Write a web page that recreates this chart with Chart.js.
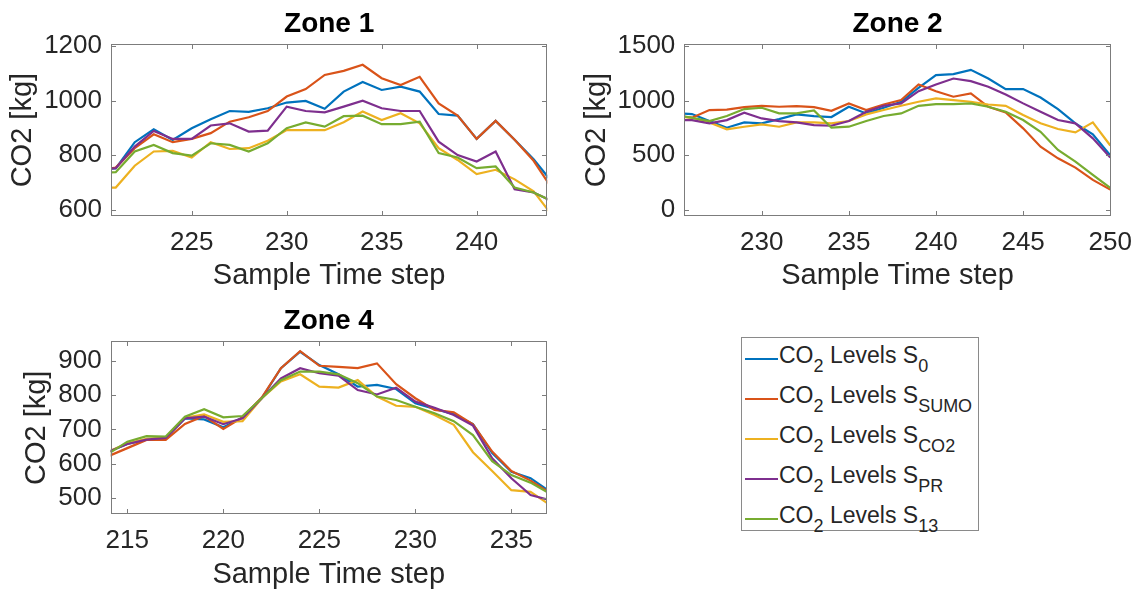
<!DOCTYPE html>
<html><head><meta charset="utf-8">
<script src="https://cdn.jsdelivr.net/npm/chart.js@4.4.1/dist/chart.umd.min.js"></script>
<style>
html,body{margin:0;padding:0;background:#fff;width:1143px;height:596px;overflow:hidden;}
#wrap{position:relative;width:1143px;height:596px;}
canvas{position:absolute;}
.lrow{position:absolute;white-space:nowrap;font-family:'Liberation Sans',Arial,Helvetica,sans-serif;font-size:23px;line-height:23px;color:#262626;}
.lrow sub{font-size:18px;vertical-align:baseline;position:relative;top:9px;line-height:0;}
.lline{position:absolute;height:2px;}
#lbox{position:absolute;border:1px solid #8a8a8a;box-sizing:border-box;background:#fff;}
</style></head><body>
<div id="wrap">
<canvas id="c1" width="570" height="300" style="left:0;top:0"></canvas>
<canvas id="c2" width="573" height="300" style="left:570px;top:0"></canvas>
<canvas id="c4" width="570" height="300" style="left:0;top:296px"></canvas>
<div id="lbox" style="left:741px;top:337px;width:238px;height:194px"></div>
</div>
<script>
// ---------- data ----------
const seriesSubs = ['0', 'SUMO', 'CO2', 'PR', '13'];
const seriesColors = ['#0072BD', '#D95319', '#EDB120', '#7E2F8E', '#77AC30'];

const zone1Steps = [220,221,222,223,224,225,226,227,228,229,230,231,232,233,234,235,236,237,238,239,240,241,242,243,244];
const zone1S0   = [748,752,848,895,856,899,932,962,959,972,993,999,970,1033,1068,1039,1051,1033,951,945,860,926,857,786,699];
const zone1SUMO = [745,755,826,877,848,860,881,923,939,962,1015,1042,1094,1109,1131,1082,1057,1087,990,945,860,926,857,780,675];
const zone1CO2  = [682,682,762,814,816,792,848,823,826,853,892,892,892,921,960,929,954,917,826,783,731,747,712,668,578];
const zone1PR   = [748,753,832,889,860,860,909,917,887,890,978,962,957,978,1000,972,962,962,850,801,777,814,676,664,631];
const zone1S13  = [735,738,814,838,808,799,844,838,814,844,899,920,905,943,945,914,914,923,808,792,753,759,682,664,631];
const zone1XTicks = [225,230,235,240];
const zone1YTicks = [600,800,1000,1200];

const zone2Steps = [225,226,227,228,229,230,231,232,233,234,235,236,237,238,239,240,241,242,243,244,245,246,247,248,249,250];
const zone2S0   = [885,878,814,753,802,793,832,875,860,851,945,884,936,991,1119,1235,1244,1284,1204,1107,1107,1030,924,793,692,500];
const zone2SUMO = [860,845,915,918,942,954,945,951,942,908,976,915,966,1006,1149,1088,1037,1067,945,893,747,579,472,387,274,185];
const zone2CO2  = [860,844,802,738,762,783,762,802,802,793,814,875,915,954,991,1021,1006,991,966,954,869,793,741,710,802,590];
const zone2PR   = [823,823,793,823,890,838,814,802,777,771,814,899,954,976,1088,1149,1204,1180,1128,1058,976,899,823,793,655,480];
const zone2S13  = [870,844,814,860,924,936,884,884,912,753,762,814,860,884,954,969,969,976,945,899,823,716,549,442,320,200];
const zone2XTicks = [230,235,240,245,250];
const zone2YTicks = [0,500,1000,1500];

const zone4Steps = [214,215,216,217,218,219,220,221,222,223,224,225,226,227,228,229,230,231,232,233,234,235,236,237];
const zone4S0   = [634,657,670,675,732,729,706,735,791,879,927,888,861,825,830,818,776,760,744,715,631,576,557,518];
const zone4SUMO = [621,645,669,669,716,739,701,735,793,879,929,886,883,879,893,832,791,757,750,715,635,578,550,514];
const zone4CO2  = [634,659,672,676,734,744,722,724,791,840,861,825,822,844,796,769,766,742,713,633,578,522,517,479];
const zone4PR   = [634,657,670,675,732,737,715,732,791,849,879,864,857,815,802,822,781,763,742,711,615,557,508,493];
const zone4S13  = [628,664,680,679,737,759,735,739,791,844,869,869,861,835,796,786,766,747,724,683,607,566,544,512];
const zone4XTicks = [215,220,225,230,235];
const zone4YTicks = [500,600,700,800,900];

// ---------- drawing ----------
const FONT = "'Liberation Sans', Arial, Helvetica, sans-serif";

const framePlugin = {
  id: 'frame',
  afterDatasetsDraw(chart) {
    const {ctx, chartArea: a, scales: {x, y}} = chart;
    ctx.save();
    ctx.strokeStyle = '#7c7c7c';
    ctx.lineWidth = 1;
    const L = Math.round(a.left) + 0.5, R = Math.round(a.right) - 0.5;
    const T = Math.round(a.top) + 0.5, B = Math.round(a.bottom) - 0.5;
    ctx.strokeRect(L, T, R - L, B - T);
    const tl = 4.5;
    ctx.beginPath();
    x.ticks.forEach(t => {
      const p = Math.round(x.getPixelForValue(t.value)) + 0.5;
      ctx.moveTo(p, B); ctx.lineTo(p, B - tl);
      ctx.moveTo(p, T); ctx.lineTo(p, T + tl);
    });
    y.ticks.forEach(t => {
      const p = Math.round(y.getPixelForValue(t.value)) + 0.5;
      ctx.moveTo(L, p); ctx.lineTo(L + tl, p);
      ctx.moveTo(R, p); ctx.lineTo(R - tl, p);
    });
    ctx.stroke();
    ctx.restore();
  }
};

function makeChart(id, title, steps, series, xr, yr, xTicks, yTicks, g) {
  const datasets = series.map((vals, i) => ({
    data: steps.map((s, k) => ({x: s, y: vals[k]})),
    borderColor: seriesColors[i],
    backgroundColor: seriesColors[i],
    borderWidth: 2.2,
    pointRadius: 0,
    tension: 0,
    fill: false,
    clip: 0,
    order: series.length - i
  }));
  const xTitleLH = 29 * 1.2;
  return new Chart(document.getElementById(id), {
    type: 'line',
    data: {datasets},
    plugins: [framePlugin],
    options: {
      responsive: false,
      animation: false,
      events: [],
      layout: {padding: {left: 0, right: g.w - g.right, top: g.top - 33.6 - 3.5, bottom: 0}},
      plugins: {
        legend: {display: false},
        tooltip: {enabled: false},
        title: {display: true, text: title, color: '#000', fullSize: false,
          font: {family: FONT, size: 28, weight: 'bold', lineHeight: 1.2},
          padding: {top: 0, bottom: 3.5}}
      },
      scales: {
        x: {
          type: 'linear', min: xr[0], max: xr[1],
          afterBuildTicks: s => { s.ticks = xTicks.map(v => ({value: v})); },
          afterFit: s => { s.height = g.h - g.bottom; },
          grid: {display: false, drawTicks: false},
          border: {display: false},
          ticks: {padding: 11, autoSkip: false, maxRotation: 0, color: '#262626',
            font: {family: FONT, size: 26}, callback: v => String(v)},
          title: {display: true, text: 'Sample Time step', color: '#262626',
            font: {family: FONT, size: 29, lineHeight: 1.2},
            padding: {top: 0, bottom: g.h - g.xTitleY - xTitleLH / 2}}
        },
        y: {
          type: 'linear', min: yr[0], max: yr[1],
          afterBuildTicks: s => { s.ticks = yTicks.map(v => ({value: v})); },
          afterFit: s => { s.width = g.left; },
          grid: {display: false, drawTicks: false},
          border: {display: false},
          ticks: {padding: 9, autoSkip: false, color: '#262626',
            font: {family: FONT, size: 26}, callback: v => String(v)},
          title: {display: true, text: 'CO2 [kg]', color: '#262626',
            font: {family: FONT, size: 29, lineHeight: 1.2},
            padding: {top: g.yTitleX - xTitleLH / 2, bottom: 0}}
        }
      }
    }
  });
}

makeChart('c1', 'Zone 1', zone1Steps, [zone1S0, zone1SUMO, zone1CO2, zone1PR, zone1S13],
  [220.75, 243.72], [578, 1206], zone1XTicks, zone1YTicks,
  {w: 570, h: 300, left: 111, right: 547.3, top: 44.3, bottom: 216, yTitleX: 23.3, xTitleY: 276.3});
makeChart('c2', 'Zone 2', zone2Steps, [zone2S0, zone2SUMO, zone2CO2, zone2PR, zone2S13],
  [225.56, 250.03], [-57, 1518], zone2XTicks, zone2YTicks,
  {w: 573, h: 300, left: 114.3, right: 544.5, top: 44.3, bottom: 216, yTitleX: 26.6, xTitleY: 276.3});
makeChart('c4', 'Zone 4', zone4Steps, [zone4S0, zone4SUMO, zone4CO2, zone4PR, zone4S13],
  [214.135, 236.84], [451.4, 957.6], zone4XTicks, zone4YTicks,
  {w: 570, h: 300, left: 110.7, right: 546.7, top: 45.3, bottom: 218.3, yTitleX: 37.4, xTitleY: 278.6});

// ---------- legend (HTML text with subscripts) ----------
const wrap = document.getElementById('wrap');
seriesSubs.forEach((sub, i) => {
  const baseline = 363.3 + i * 40;
  const line = document.createElement('div');
  line.className = 'lline';
  line.style.cssText = `left:745px;width:33px;top:${baseline - 5}px;background:${seriesColors[i]}`;
  wrap.appendChild(line);
  const row = document.createElement('div');
  row.className = 'lrow';
  row.style.left = '779px';
  row.style.top = (baseline - 19.5) + 'px';
  row.innerHTML = `CO<sub>2</sub> Levels S<sub>${sub}</sub>`;
  wrap.appendChild(row);
});
</script>
</body></html>
